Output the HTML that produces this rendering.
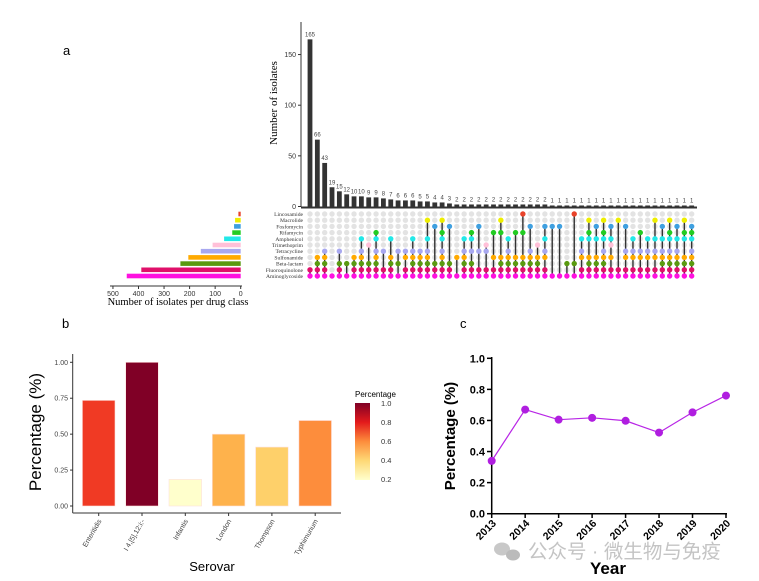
<!DOCTYPE html>
<html><head><meta charset="utf-8"><style>
body{margin:0;background:#fff}
svg{display:block}
text{font-family:"Liberation Sans",sans-serif}
.serif{font-family:"Liberation Serif",serif}
</style></head><body>
<svg id="fig" width="759" height="581" viewBox="0 0 759 581" xmlns="http://www.w3.org/2000/svg">
<text x="63" y="55" font-size="13">a</text>
<text x="62" y="328" font-size="13">b</text>
<text x="460" y="328" font-size="13">c</text>
<g id="upset"></g>
<g id="barb"></g>
<g id="linec"></g>
<g fill="#c8c8c8">
<ellipse cx="502" cy="549" rx="8" ry="6.5"/><ellipse cx="513" cy="555" rx="7" ry="5.5" fill="#bbb"/>
<text x="528" y="558" font-size="19.5" fill="#c4c4c4" font-family="'Liberation Sans','Noto Sans CJK SC',sans-serif">公众号 · 微生物与免疫</text>
</g>
</svg>
<script>
const NS="http://www.w3.org/2000/svg";
function mk(p,t,a){const e=document.createElementNS(NS,t);for(const k in a)e.setAttribute(k,a[k]);p.appendChild(e);return e;}

// ---------- Panel a: UpSet ----------
const intersectionCounts=[165,66,43,19,15,12,10,10,9,9,8,7,6,6,6,5,5,4,4,3,2,2,2,2,2,2,2,2,2,2,2,2,2,1,1,1,1,1,1,1,1,1,1,1,1,1,1,1,1,1,1,1,1];
const drugClasses=["Lincosamide","Macrolide","Fosfomycin","Rifamycin","Amphenicol","Trimethoprim","Tetracycline","Sulfonamide","Beta-lactam","Fluoroquinolone","Aminoglycoside"];
const classCounts=[9,22,26,33,65,110,156,205,236,389,446];
const classColors=["#e8432a","#eeee00","#3fa0e0","#22cc22","#22e8e8","#ffc0d8","#a8a8f0","#ffaa00","#5a9a10","#e0106a","#ff10e0"];
const memberships=[
"Fq,Am","S,B,Fq,Am","Te,S,B,Fq,Am","Am","Te,B,Fq,Am","B,Am","S,B,Fq,Am","A,Te,S,B,Fq,Am","T,B,Fq,Am","R,A,Te,S,B,Fq,Am",
"Te,Fq,Am","A,S,B,Fq,Am","Te,B,Am","Te,S,Fq,Am","A,Te,S,B,Fq,Am","Te,S,B,Fq,Am","M,A,Te,S,B,Fq,Am","F,B,Fq,Am","M,R,A,Te,S,B,Fq,Am","F,B,Fq,Am",
"S,Am","A,Te,S,B,Fq,Am","R,A,Te,B,Fq,Am","F,Te,Fq,Am","T,Te,Fq,Am","R,S,Fq,Am","M,R,S,B,Fq,Am","A,Te,S,B,Fq,Am","R,S,B,Fq,Am","L,R,S,B,Fq,Am",
"F,Te,S,B,Fq,Am","T,S,B,Fq,Am","F,A,Te,S,Fq,Am","F,Am","F,Am","B,Am","L,B,Am","A,Te,S,Fq,Am","M,R,A,S,B,Fq,Am","F,A,S,B,Fq,Am",
"M,R,A,Te,S,B,Fq,Am","F,A,T,S,Fq,Am","M,Fq,Am","F,Te,S,Fq,Am","A,Te,S,Fq,Am","R,Te,S,Fq,Am","A,Te,S,Fq,Am","M,A,Te,S,Fq,Am","F,A,Te,S,B,Fq,Am","M,R,A,Te,S,B,Fq,Am",
"F,A,Te,S,B,Fq,Am","M,R,A,S,B,Fq,Am","F,R,A,Te,S,B,Fq,Am"];
const codes=["L","M","F","R","A","T","Te","S","B","Fq","Am"];
const topTicks=[0,50,100,150];
const leftTicks=[500,400,300,200,100,0];

(function(){
const g=document.getElementById('upset');
const yTop=v=>206.5-v*1.013;
const xCol=i=>310+i*7.34;
const yRow=r=>214+r*6.2;
const xLeft=v=>240.7-v*0.2555;
const ax=mk(g,'line',{x1:301,y1:22,x2:301,y2:207,stroke:'#333','stroke-width':1});

topTicks.forEach(t=>{
 mk(g,'line',{x1:298,x2:301,y1:yTop(t),y2:yTop(t),stroke:'#333'});
 const tx=mk(g,'text',{x:296,y:yTop(t)+2.5,'font-size':7,'text-anchor':'end',fill:'#333'});tx.textContent=t;
 
});
const yt=mk(g,'text',{x:0,y:0,'font-size':11,'text-anchor':'middle',class:'serif',transform:'translate(277,103) rotate(-90)'});
yt.textContent='Number of isolates';

mk(g,'line',{x1:301,y1:207.5,x2:697,y2:207.5,stroke:'#333','stroke-width':2});
intersectionCounts.forEach((v,i)=>{
 const b=mk(g,'rect',{x:xCol(i)-2.4,y:yTop(v),width:4.8,height:206.5-yTop(v),fill:'#333'});
 
 const l=mk(g,'text',{x:xCol(i),y:yTop(v)-3,'font-size':6,'text-anchor':'middle',fill:'#444'});l.textContent=v;
 
});
memberships.forEach((m,i)=>{
 const set=m.split(',');const rows=set.map(c=>codes.indexOf(c));
 for(let r=0;r<11;r++){ if(!rows.includes(r)) mk(g,'circle',{cx:xCol(i),cy:yRow(r),r:2.7,fill:'#e3e3e3'}); }
 const mn=Math.min(...rows),mxr=Math.max(...rows);
 if(mn!==mxr){const ln=mk(g,'line',{x1:xCol(i),x2:xCol(i),y1:yRow(mn),y2:yRow(mxr),stroke:'#333','stroke-width':1.4});
 }
 rows.forEach(r=>{const c=mk(g,'circle',{cx:xCol(i),cy:yRow(r),r:2.7,fill:classColors[r]});
 });
});
drugClasses.forEach((d,r)=>{
 const t=mk(g,'text',{x:303,y:yRow(r)+2,'font-size':5.6,'text-anchor':'end',class:'serif',fill:'#333'});t.textContent=d;
 
 const b=mk(g,'rect',{x:xLeft(classCounts[r]),y:yRow(r)-2.3,width:240.7-xLeft(classCounts[r]),height:4.6,fill:classColors[r]});
 
});
mk(g,'line',{x1:110,x2:242,y1:286,y2:286,stroke:'#333'});
leftTicks.forEach(t=>{
 mk(g,'line',{x1:xLeft(t),x2:xLeft(t),y1:286,y2:289,stroke:'#333'});
 const tx=mk(g,'text',{x:xLeft(t),y:296,'font-size':7,'text-anchor':'middle',fill:'#333'});tx.textContent=t;
 
});
const lt=mk(g,'text',{x:178,y:305,'font-size':10.5,'text-anchor':'middle',class:'serif'});lt.textContent='Number of isolates per drug class';

})();

// ---------- Panel b ----------
const serovars=["Enteritidis","I 4,[5],12:i:-","Infantis","London","Thompson","Typhimurium"];
const serovarValues=[0.735,1.0,0.185,0.5,0.41,0.595];
const serovarColors=["#f03a24","#800026","#ffffcc","#feb24c","#fed06a","#fd8d3c"];
const bTicks=[0,0.25,0.5,0.75,1.0];
const legendTicks=[1.0,0.8,0.6,0.4,0.2];
(function(){
const g=document.getElementById('barb');
const y=v=>506-v*143.7;const x=i=>98.7+i*43.3;
mk(g,'line',{x1:72.7,y1:354,x2:72.7,y2:513,stroke:'#333'});
mk(g,'line',{x1:72.7,y1:513,x2:341,y2:513,stroke:'#333'});
bTicks.forEach(t=>{
 mk(g,'line',{x1:70,x2:72.7,y1:y(t),y2:y(t),stroke:'#333'});
 const tx=mk(g,'text',{x:68,y:y(t)+2.5,'font-size':7,'text-anchor':'end',fill:'#444'});tx.textContent=t.toFixed(2);
 
});
serovarValues.forEach((v,i)=>{
 const b=mk(g,'rect',{x:x(i)-16.3,y:y(v),width:32.6,height:506-y(v),fill:serovarColors[i],stroke:'#fde0dd','stroke-width':0.6});
 
 mk(g,'line',{x1:x(i),x2:x(i),y1:513,y2:516,stroke:'#333'});
 const t=mk(g,'text',{x:0,y:0,'font-size':7,'text-anchor':'end',fill:'#444',transform:`translate(${x(i)+3},${521}) rotate(-60)`});t.textContent=serovars[i];
 
});
const yt=mk(g,'text',{x:0,y:0,'font-size':17,'text-anchor':'middle',transform:'translate(41,432) rotate(-90)'});yt.textContent='Percentage (%)';

const xt=mk(g,'text',{x:212,y:571,'font-size':13,'text-anchor':'middle'});xt.textContent='Serovar';

const defs=mk(g,'defs',{});const lg=mk(defs,'linearGradient',{id:'grad',x1:0,y1:1,x2:0,y2:0});
[["0","#ffffcc"],["0.25","#fed976"],["0.5","#fd8d3c"],["0.75","#e31a1c"],["1","#800026"]].forEach(s=>mk(lg,'stop',{offset:s[0],'stop-color':s[1]}));
const lt=mk(g,'text',{x:355,y:397,'font-size':8});lt.textContent='Percentage';

const bar=mk(g,'rect',{x:355,y:403,width:15,height:77,fill:'url(#grad)'});

legendTicks.forEach(t=>{const yy=403+(1-t)/0.8*76;
 const tx=mk(g,'text',{x:381,y:yy+3,'font-size':7.5,fill:'#333'});tx.textContent=t.toFixed(1);
 });
})();

// ---------- Panel c ----------
const years=["2013","2014","2015","2016","2017","2018","2019","2020"];
const yearValues=[0.34,0.67,0.605,0.617,0.598,0.522,0.652,0.76];
const cTicks=[0,0.2,0.4,0.6,0.8,1.0];
(function(){
const g=document.getElementById('linec');
const y=v=>513.7-v*155.4;const x=i=>491.7+i*33.47;
mk(g,'line',{x1:491.7,y1:357,x2:491.7,y2:514.5,stroke:'#000','stroke-width':1.5});
mk(g,'line',{x1:491,y1:513.7,x2:727,y2:513.7,stroke:'#000','stroke-width':1.5});
cTicks.forEach(t=>{
 mk(g,'line',{x1:487,x2:491.7,y1:y(t),y2:y(t),stroke:'#000','stroke-width':1.5});
 const tx=mk(g,'text',{x:485,y:y(t)+4,'font-size':11,'font-weight':'bold','text-anchor':'end'});tx.textContent=t.toFixed(1);
 
});
const pts=yearValues.map((v,i)=>x(i)+','+y(v)).join(' ');
const pl=mk(g,'polyline',{points:pts,fill:'none',stroke:'#b825e6','stroke-width':1.2});

yearValues.forEach((v,i)=>{
 const c=mk(g,'circle',{cx:x(i),cy:y(v),r:4,fill:'#b01ee0'});
 
 mk(g,'line',{x1:x(i),x2:x(i),y1:513.7,y2:518,stroke:'#000','stroke-width':1.5});
 const t=mk(g,'text',{x:0,y:0,'font-size':10.5,'font-weight':'bold','text-anchor':'end',transform:`translate(${x(i)+5},${524}) rotate(-45)`});t.textContent=years[i];
 
});
const yt=mk(g,'text',{x:0,y:0,'font-size':15,'font-weight':'bold','text-anchor':'middle',transform:'translate(455,436) rotate(-90)'});yt.textContent='Percentage (%)';

const xt=mk(g,'text',{x:608,y:574,'font-size':17,'font-weight':'bold','text-anchor':'middle'});xt.textContent='Year';

})();
</script>
</body></html>
